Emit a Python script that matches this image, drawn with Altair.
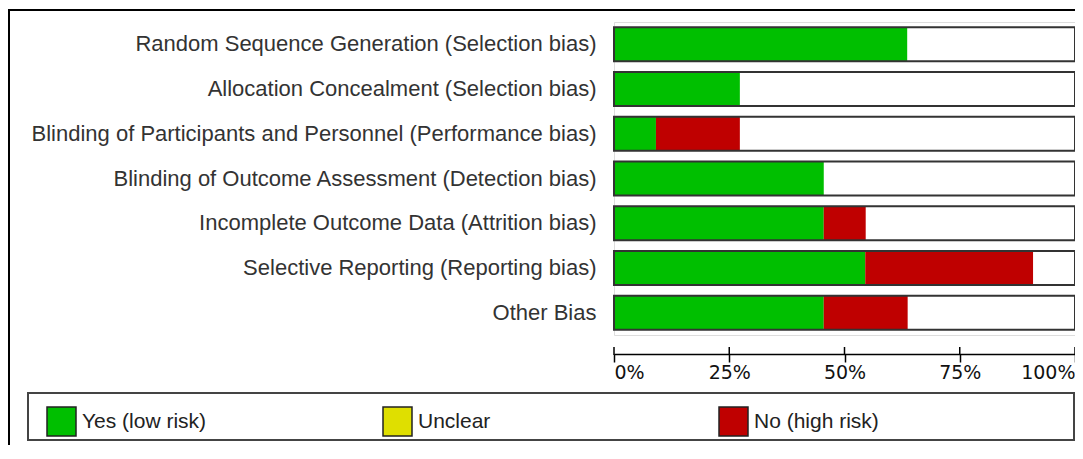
import altair as alt
import pandas as pd

# ---- data (percent of studies) ----
domains = [
    "Random Sequence Generation (Selection bias)",
    "Allocation Concealment (Selection bias)",
    "Blinding of Participants and Personnel (Performance bias)",
    "Blinding of Outcome Assessment (Detection bias)",
    "Incomplete Outcome Data (Attrition bias)",
    "Selective Reporting (Reporting bias)",
    "Other Bias",
]
yes_low = [63.6, 27.3, 9.1, 45.5, 45.5, 54.5, 45.5]
unclear = [0, 0, 0, 0, 0, 0, 0]
no_high = [0, 0, 18.2, 0, 9.1, 36.4, 18.2]
risk_levels = ["Yes (low risk)", "Unclear", "No (high risk)"]
risk_colors = ["#00bf00", "#dfdf00", "#bf0000"]
tick_values = [0, 25, 50, 75, 100]

rows = []
for d, y, u, n in zip(domains, yes_low, unclear, no_high):
    start = 0.0
    for lvl, v in zip(["Yes (low risk)", "No (high risk)", "Unclear"], [y, n, u]):
        rows.append({"domain": d, "risk": lvl, "start": start, "end": start + v})
        start += v
seg = pd.DataFrame(rows)
full = pd.DataFrame({"domain": domains, "start": [0] * len(domains), "end": [100] * len(domains)})
ticks = pd.DataFrame({"v": tick_values})

W, H = 461, 313
xscale = alt.Scale(domain=[0, 100], nice=False, zero=False)
yscale = alt.Scale(domain=domains, paddingInner=0.24, paddingOuter=0.12)

yaxis = alt.Axis(title=None, domain=False, ticks=False, labelFont="Liberation Sans",
                 labelFontSize=22, labelColor="#333333", labelPadding=18, labelLimit=1000)
xaxis = alt.Axis(title=None, values=tick_values, labelExpr="datum.value + '%'", grid=False,
                 offset=19, domainColor="#000000", domainWidth=1.5, tickColor="#000000",
                 tickWidth=1.5, tickSize=8, labelFlush=True, labelFont="DejaVu Sans",
                 labelFontSize=19, labelColor="#111111", labelPadding=1)

background = alt.Chart(full).mark_rect(fill="white").encode(
    x=alt.X("start:Q", scale=xscale, axis=xaxis),
    x2="end:Q",
    y=alt.Y("domain:N", scale=yscale, axis=yaxis, sort=domains),
)

segments = alt.Chart(seg).mark_rect().encode(
    x=alt.X("start:Q", scale=xscale, axis=xaxis),
    x2="end:Q",
    y=alt.Y("domain:N", scale=yscale, axis=yaxis, sort=domains),
    color=alt.Color(
        "risk:N",
        scale=alt.Scale(domain=risk_levels, range=risk_colors),
        legend=alt.Legend(
            title=None, orient="none", legendX=-568, legendY=384, direction="horizontal",
            columns=3, gridAlign="all", columnPadding=173, symbolType="square",
            symbolSize=841, symbolStrokeColor="#222222", symbolStrokeWidth=1.5,
            symbolOpacity=1, labelFont="Liberation Sans", labelFontSize=21,
            labelColor="#222222", labelOffset=5, padding=0, labelLimit=400,
        ),
    ),
)

outline = alt.Chart(full).mark_rect(fill=None, stroke="#333333", strokeWidth=2).encode(
    x=alt.X("start:Q", scale=xscale, axis=xaxis),
    x2="end:Q",
    y=alt.Y("domain:N", scale=yscale, axis=yaxis, sort=domains),
)

tick_up = alt.Chart(ticks).mark_rule(color="#000000", strokeWidth=1.5).encode(
    x=alt.X("v:Q", scale=xscale, axis=xaxis),
    y=alt.value(325),
    y2=alt.value(333),
)

one = alt.Data(values=[{"k": 1}])
frame = alt.Chart(one).mark_rect(fill=None, stroke="#000000", strokeWidth=2).encode(
    x=alt.value(-605), x2=alt.value(470), y=alt.value(-12), y2=alt.value(480)
)
legend_box = alt.Chart(one).mark_rect(fill=None, stroke="#444444", strokeWidth=2).encode(
    x=alt.value(-586), x2=alt.value(460), y=alt.value(371), y2=alt.value(418)
)

chart = alt.layer(frame, legend_box, background, segments, outline, tick_up).properties(
    width=W, height=H,
    autosize=alt.AutoSizeParams(type="none"),
    padding={"left": 606, "top": 14, "right": 0, "bottom": 110},
).configure_view(stroke=None).configure(background="white")

chart.save("out.html", embed_options={"renderer": "svg", "actions": False})
